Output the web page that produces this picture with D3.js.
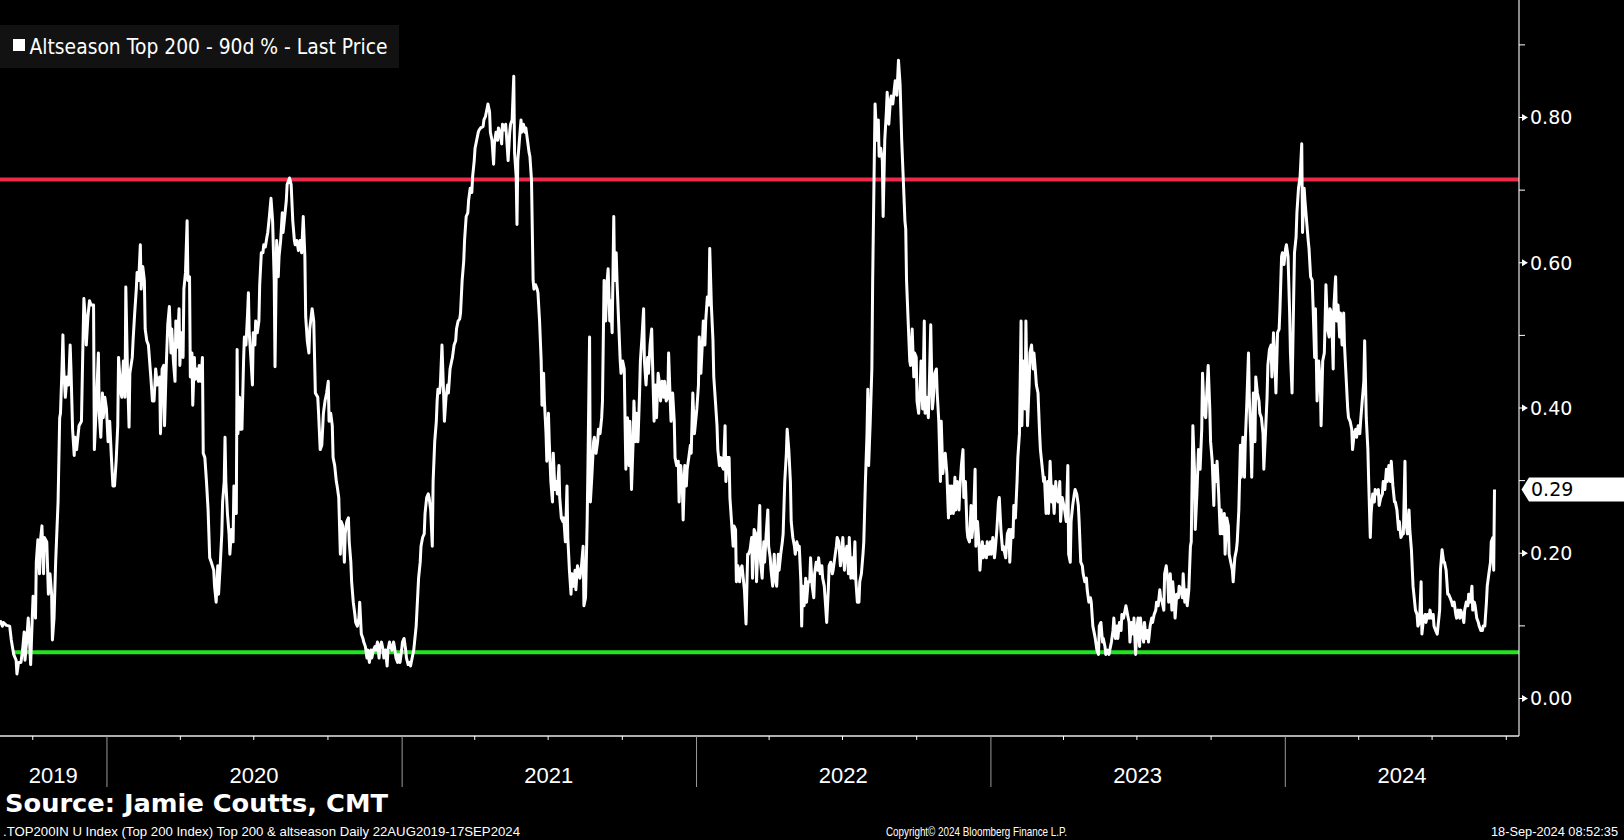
<!DOCTYPE html>
<html>
<head>
<meta charset="utf-8">
<script src="https://cdn.jsdelivr.net/npm/d3@7"></script>
<style>
html,body{margin:0;padding:0;background:#000;overflow:hidden;}
svg{display:block;}
</style>
</head>
<body>
<svg id="chart" width="1624" height="840"></svg>
<script>
// ---------------- DATA ----------------
const startDate = "2019-08-22";
const endDate = "2024-09-17";
// [days since startDate, Altseason Top 200 - 90d % value]
const altseason = [
[0,0.107],[3,0.099],[4,0.104],[8,0.100],[12,0.099],[14,0.080],[17,0.060],[20,0.052],[21,0.033],[23,0.049],[26,0.049],[28,0.066],[30,0.091],[31,0.052],[33,0.077],[35,0.110],[36,0.091],[38,0.046],[40,0.110],[41,0.140],[43,0.132],[44,0.110],[45,0.187],[47,0.218],[49,0.171],[50,0.215],[52,0.237],[54,0.171],[55,0.221],[58,0.215],[60,0.143],[62,0.171],[64,0.143],[65,0.080],[67,0.110],[69,0.187],[70,0.215],[72,0.270],[74,0.386],[75,0.392],[77,0.458],[78,0.500],[79,0.453],[81,0.414],[83,0.442],[85,0.431],[87,0.486],[88,0.453],[90,0.370],[92,0.334],[93,0.359],[95,0.342],[97,0.364],[98,0.375],[101,0.381],[103,0.497],[104,0.550],[106,0.519],[107,0.486],[109,0.525],[111,0.547],[113,0.541],[116,0.541],[117,0.342],[119,0.392],[122,0.475],[123,0.392],[125,0.359],[127,0.420],[128,0.386],[130,0.414],[132,0.398],[134,0.353],[136,0.381],[138,0.334],[140,0.292],[142,0.292],[144,0.326],[146,0.375],[147,0.469],[150,0.420],[151,0.414],[153,0.464],[155,0.414],[156,0.566],[158,0.453],[160,0.373],[161,0.447],[164,0.469],[165,0.492],[167,0.530],[169,0.563],[170,0.586],[172,0.575],[174,0.624],[175,0.563],[177,0.594],[179,0.575],[180,0.508],[182,0.492],[184,0.486],[187,0.442],[189,0.409],[191,0.409],[193,0.453],[195,0.431],[198,0.442],[199,0.364],[201,0.453],[203,0.458],[204,0.375],[206,0.453],[208,0.514],[210,0.539],[212,0.475],[213,0.508],[215,0.464],[217,0.436],[218,0.519],[220,0.483],[222,0.536],[223,0.458],[225,0.503],[227,0.469],[228,0.563],[230,0.586],[232,0.657],[233,0.575],[235,0.580],[236,0.442],[238,0.475],[239,0.403],[241,0.469],[242,0.439],[244,0.453],[246,0.436],[247,0.458],[249,0.436],[251,0.469],[252,0.337],[254,0.331],[256,0.298],[258,0.259],[260,0.193],[262,0.187],[265,0.176],[266,0.154],[268,0.132],[270,0.182],[271,0.143],[273,0.182],[275,0.226],[276,0.270],[278,0.298],[279,0.359],[280,0.298],[282,0.254],[284,0.226],[285,0.198],[287,0.232],[289,0.215],[290,0.292],[291,0.254],[293,0.254],[294,0.480],[295,0.364],[297,0.414],[298,0.370],[300,0.370],[302,0.464],[303,0.497],[305,0.486],[307,0.530],[308,0.558],[309,0.503],[311,0.469],[313,0.431],[314,0.503],[316,0.486],[317,0.519],[319,0.503],[321,0.519],[322,0.569],[324,0.613],[326,0.613],[327,0.624],[329,0.621],[331,0.635],[332,0.641],[334,0.663],[336,0.688],[338,0.657],[340,0.575],[341,0.456],[343,0.630],[345,0.580],[346,0.608],[348,0.630],[350,0.668],[351,0.641],[353,0.663],[355,0.685],[356,0.707],[359,0.716],[361,0.707],[363,0.657],[365,0.630],[366,0.624],[368,0.630],[370,0.616],
[372,0.630],[374,0.613],[376,0.663],[378,0.608],[379,0.525],[381,0.492],[383,0.475],[384,0.508],[387,0.536],[389,0.519],[391,0.420],[394,0.414],[395,0.392],[397,0.342],[399,0.348],[401,0.392],[403,0.409],[405,0.420],[407,0.436],[408,0.381],[410,0.392],[412,0.375],[413,0.331],[415,0.320],[417,0.298],[418,0.292],[420,0.276],[422,0.198],[423,0.243],[425,0.237],[427,0.187],[428,0.226],[430,0.243],[432,0.248],[433,0.215],[435,0.187],[436,0.160],[438,0.132],[440,0.115],[441,0.104],[443,0.099],[445,0.110],[446,0.132],[448,0.088],[450,0.082],[451,0.077],[453,0.071],[455,0.055],[456,0.066],[458,0.049],[460,0.066],[461,0.055],[463,0.066],[465,0.071],[466,0.066],[468,0.077],[470,0.055],[471,0.071],[473,0.077],[475,0.066],[476,0.055],[478,0.066],[480,0.044],[481,0.066],[483,0.077],[484,0.071],[486,0.066],[488,0.077],[489,0.071],[491,0.055],[493,0.049],[494,0.060],[496,0.049],[498,0.066],[499,0.077],[501,0.082],[503,0.066],[504,0.055],[506,0.046],[508,0.049],[509,0.044],[511,0.055],[513,0.066],[514,0.077],[516,0.099],[518,0.143],[519,0.165],[521,0.187],[522,0.209],[524,0.221],[526,0.226],[527,0.254],[529,0.276],[531,0.281],[532,0.276],[534,0.259],[536,0.209],[537,0.298],[539,0.353],[541,0.381],[542,0.409],[543,0.425],[545,0.420],[546,0.431],[548,0.486],[550,0.420],[551,0.381],[553,0.414],[555,0.431],[556,0.420],[558,0.453],[560,0.464],[561,0.469],[563,0.486],[565,0.492],[566,0.508],[568,0.519],[570,0.522],[571,0.530],[573,0.575],[575,0.602],[576,0.630],[578,0.663],[580,0.668],[581,0.685],[583,0.702],[585,0.696],[586,0.718],[588,0.740],[589,0.757],[591,0.768],[593,0.779],[594,0.782],[596,0.785],[599,0.787],[600,0.796],[602,0.801],[604,0.812],[605,0.818],[607,0.807],[608,0.779],[610,0.768],[612,0.735],[613,0.763],[615,0.779],[617,0.768],[618,0.785],[620,0.779],[622,0.763],[623,0.790],[625,0.782],[627,0.790],[628,0.774],[630,0.740],[632,0.779],[633,0.790],[635,0.796],[637,0.856],[638,0.751],[640,0.718],[641,0.652],[642,0.740],[644,0.768],[646,0.796],[647,0.779],[649,0.790],[651,0.779],[652,0.785],[654,0.768],[656,0.751],[657,0.746],[659,0.713],[661,0.575],[662,0.563],[664,0.569],[666,0.563],[667,0.558],[669,0.519],[671,0.464],[672,0.403],[674,0.447],[675,0.409],[677,0.364],[678,0.326],[680,0.392],[681,0.353],[683,0.298],[685,0.270],[686,0.337],[688,0.287],[690,0.298],[691,0.281],[693,0.320],[694,0.276],[696,0.248],[698,0.243],[699,0.248],[701,0.215],[703,0.292],[704,0.221],[706,0.176],[708,0.143],[709,0.171],[711,0.154],[713,0.176],[714,0.149],[716,0.182],[718,0.171],[719,0.165],[721,0.182],[723,0.209],[724,0.127],[726,0.138],[728,0.243],[729,0.320],[731,0.497],[732,0.270],[734,0.309],[736,0.353],[737,0.359],[739,0.337],[741,0.353],[742,0.370],[744,0.364],
[746,0.386],[747,0.409],[749,0.575],[751,0.519],[752,0.563],[754,0.591],[756,0.519],[757,0.547],[759,0.503],[761,0.663],[762,0.575],[764,0.613],[765,0.575],[767,0.519],[769,0.464],[770,0.447],[772,0.464],[774,0.453],[775,0.381],[776,0.315],[778,0.386],[780,0.320],[781,0.381],[783,0.287],[785,0.353],[786,0.409],[788,0.353],[789,0.392],[791,0.353],[793,0.420],[794,0.464],[796,0.497],[798,0.536],[799,0.464],[801,0.431],[803,0.469],[804,0.447],[806,0.486],[808,0.508],[809,0.464],[811,0.381],[813,0.431],[814,0.386],[816,0.447],[818,0.431],[819,0.409],[821,0.436],[823,0.414],[824,0.436],[826,0.409],[828,0.414],[829,0.475],[831,0.409],[832,0.381],[834,0.420],[836,0.381],[837,0.331],[839,0.320],[841,0.326],[842,0.270],[844,0.320],[846,0.292],[847,0.245],[849,0.320],[851,0.292],[852,0.315],[854,0.331],[856,0.348],[857,0.337],[859,0.420],[861,0.364],[862,0.375],[864,0.398],[866,0.431],[867,0.497],[869,0.447],[871,0.492],[872,0.519],[874,0.486],[875,0.519],[877,0.552],[879,0.541],[880,0.619],[882,0.541],[884,0.492],[885,0.442],[887,0.409],[889,0.375],[890,0.342],[892,0.320],[894,0.331],[895,0.320],[897,0.315],[899,0.375],[900,0.298],[902,0.331],[904,0.331],[905,0.276],[907,0.243],[909,0.209],[910,0.237],[912,0.232],[913,0.160],[915,0.182],[917,0.160],[918,0.176],[920,0.182],[922,0.160],[923,0.149],[925,0.102],[927,0.198],[928,0.198],[930,0.204],[932,0.221],[933,0.165],[935,0.232],[937,0.226],[938,0.160],[940,0.215],[942,0.265],[943,0.187],[945,0.165],[947,0.215],[948,0.187],[950,0.226],[952,0.259],[953,0.209],[955,0.193],[956,0.176],[958,0.154],[960,0.198],[961,0.165],[963,0.154],[965,0.198],[966,0.176],[968,0.198],[970,0.215],[971,0.226],[973,0.298],[975,0.337],[976,0.370],[978,0.342],[980,0.298],[981,0.243],[983,0.221],[985,0.209],[986,0.198],[988,0.215],[990,0.204],[991,0.209],[993,0.160],[994,0.099],[995,0.154],[997,0.127],[999,0.165],[1000,0.132],[1002,0.160],[1004,0.160],[1005,0.193],[1007,0.154],[1009,0.138],[1010,0.171],[1012,0.187],[1014,0.176],[1015,0.193],[1017,0.171],[1019,0.182],[1020,0.165],[1022,0.154],[1023,0.138],[1025,0.104],[1027,0.149],[1028,0.182],[1030,0.187],[1032,0.171],[1033,0.176],[1035,0.193],[1037,0.209],[1038,0.221],[1040,0.215],[1042,0.182],[1043,0.193],[1045,0.221],[1047,0.176],[1048,0.198],[1050,0.209],[1052,0.171],[1053,0.221],[1055,0.165],[1057,0.193],[1058,0.165],[1060,0.215],[1061,0.165],[1063,0.132],[1065,0.132],[1066,0.160],[1068,0.171],[1070,0.198],[1071,0.215],[1073,0.298],[1075,0.364],[1076,0.425],[1077,0.320],[1079,0.381],[1081,0.453],[1082,0.575],[1084,0.740],[1085,0.818],[1087,0.768],[1089,0.796],[1090,0.746],[1092,0.757],[1094,0.740],[1095,0.663],[1097,0.768],[1099,0.807],[1100,0.834],[1102,0.790],[1104,0.823],[1105,0.829],[1107,0.818],[1109,0.840],[1110,0.850],[1112,0.830],[1114,0.878],[1116,0.845],
[1118,0.768],[1120,0.713],[1122,0.657],[1123,0.646],[1124,0.575],[1126,0.519],[1128,0.464],[1129,0.458],[1131,0.508],[1133,0.442],[1134,0.475],[1136,0.469],[1137,0.409],[1139,0.392],[1141,0.431],[1142,0.464],[1144,0.398],[1146,0.519],[1147,0.392],[1149,0.414],[1151,0.386],[1152,0.420],[1154,0.514],[1156,0.398],[1157,0.409],[1159,0.447],[1161,0.453],[1162,0.420],[1164,0.381],[1166,0.298],[1167,0.381],[1169,0.309],[1171,0.331],[1172,0.337],[1174,0.309],[1176,0.248],[1177,0.292],[1179,0.254],[1180,0.292],[1182,0.254],[1184,0.304],[1185,0.259],[1187,0.298],[1189,0.259],[1190,0.287],[1192,0.320],[1194,0.342],[1195,0.276],[1197,0.298],[1199,0.232],[1200,0.221],[1202,0.215],[1204,0.265],[1205,0.221],[1207,0.243],[1209,0.315],[1210,0.209],[1212,0.243],[1214,0.209],[1215,0.176],[1216,0.193],[1218,0.215],[1219,0.193],[1221,0.209],[1223,0.193],[1224,0.215],[1226,0.198],[1228,0.215],[1229,0.198],[1231,0.221],[1233,0.193],[1234,0.204],[1236,0.232],[1238,0.270],[1239,0.276],[1241,0.232],[1243,0.204],[1244,0.209],[1246,0.198],[1247,0.193],[1249,0.226],[1251,0.232],[1252,0.187],[1254,0.232],[1256,0.221],[1257,0.265],[1259,0.248],[1261,0.298],[1262,0.331],[1264,0.364],[1266,0.519],[1267,0.375],[1269,0.464],[1271,0.398],[1272,0.519],[1274,0.375],[1276,0.431],[1277,0.475],[1279,0.486],[1281,0.453],[1282,0.475],[1284,0.447],[1285,0.431],[1287,0.420],[1289,0.364],[1290,0.342],[1292,0.320],[1294,0.298],[1295,0.304],[1297,0.254],[1299,0.298],[1300,0.254],[1302,0.326],[1304,0.270],[1305,0.292],[1307,0.254],[1309,0.298],[1310,0.276],[1312,0.270],[1314,0.298],[1315,0.243],[1317,0.276],[1319,0.265],[1320,0.259],[1322,0.243],[1324,0.320],[1325,0.198],[1327,0.187],[1328,0.243],[1330,0.265],[1332,0.281],[1333,0.287],[1335,0.281],[1337,0.265],[1338,0.243],[1340,0.187],[1342,0.182],[1343,0.171],[1345,0.160],[1347,0.165],[1348,0.149],[1350,0.132],[1352,0.138],[1353,0.132],[1355,0.099],[1357,0.088],[1358,0.082],[1360,0.066],[1362,0.060],[1363,0.099],[1365,0.104],[1367,0.077],[1368,0.082],[1370,0.071],[1371,0.060],[1373,0.066],[1375,0.060],[1376,0.066],[1378,0.077],[1380,0.093],[1381,0.110],[1383,0.082],[1385,0.099],[1386,0.082],[1388,0.104],[1390,0.093],[1391,0.115],[1393,0.110],[1395,0.121],[1396,0.127],[1398,0.115],[1400,0.104],[1401,0.077],[1403,0.104],[1405,0.088],[1406,0.110],[1408,0.060],[1410,0.099],[1411,0.110],[1413,0.071],[1414,0.110],[1416,0.088],[1418,0.077],[1419,0.104],[1421,0.082],[1423,0.093],[1424,0.077],[1426,0.099],[1428,0.110],[1429,0.104],[1431,0.115],[1433,0.121],[1434,0.132],[1436,0.127],[1438,0.149],[1439,0.138],[1441,0.132],[1443,0.121],[1444,0.171],[1446,0.182],[1448,0.160],[1449,0.132],[1451,0.171],[1453,0.121],[1454,0.160],[1456,0.132],[1457,0.110],[1459,0.143],[1461,0.138],[1462,0.154],[1464,0.149],[1466,0.138],[1467,0.171],[1469,0.132],[1471,0.149],[1472,0.127],[1474,0.149],[1476,0.209],[1477,0.215],[1479,0.375],[1481,0.315],[1482,0.232],[1484,0.281],[1486,0.342],[1487,0.320],
[1488,0.315],[1490,0.370],[1491,0.447],[1493,0.392],[1495,0.386],[1496,0.414],[1498,0.458],[1500,0.398],[1501,0.353],[1503,0.326],[1505,0.265],[1506,0.320],[1508,0.298],[1509,0.326],[1511,0.281],[1513,0.226],[1514,0.259],[1516,0.226],[1518,0.254],[1519,0.198],[1521,0.248],[1523,0.237],[1524,0.198],[1526,0.187],[1528,0.176],[1529,0.160],[1531,0.193],[1533,0.204],[1534,0.215],[1536,0.259],[1538,0.348],[1539,0.304],[1541,0.359],[1543,0.304],[1544,0.353],[1546,0.409],[1548,0.475],[1549,0.414],[1551,0.353],[1552,0.304],[1554,0.420],[1556,0.353],[1557,0.442],[1559,0.420],[1561,0.409],[1562,0.392],[1564,0.386],[1566,0.364],[1567,0.315],[1569,0.364],[1571,0.414],[1572,0.458],[1574,0.480],[1576,0.486],[1577,0.442],[1579,0.503],[1581,0.453],[1582,0.420],[1584,0.503],[1586,0.508],[1587,0.536],[1589,0.608],[1590,0.613],[1592,0.597],[1594,0.619],[1595,0.624],[1597,0.608],[1599,0.530],[1600,0.475],[1602,0.420],[1604,0.552],[1605,0.613],[1607,0.635],[1608,0.668],[1610,0.702],[1612,0.718],[1614,0.763],[1615,0.641],[1617,0.702],[1618,0.685],[1620,0.657],[1622,0.630],[1623,0.619],[1625,0.580],[1627,0.575],[1628,0.541],[1630,0.469],[1631,0.536],[1633,0.409],[1635,0.464],[1637,0.436],[1638,0.375],[1640,0.464],[1642,0.475],[1643,0.519],[1644,0.569],[1646,0.508],[1648,0.497],[1649,0.536],[1651,0.530],[1653,0.453],[1654,0.541],[1656,0.580],[1657,0.519],[1659,0.541],[1661,0.497],[1662,0.530],[1664,0.486],[1666,0.530],[1667,0.486],[1669,0.442],[1671,0.398],[1672,0.386],[1674,0.381],[1676,0.370],[1677,0.342],[1679,0.364],[1681,0.370],[1682,0.359],[1684,0.375],[1686,0.364],[1687,0.381],[1689,0.409],[1691,0.436],[1692,0.492],[1694,0.386],[1696,0.342],[1697,0.298],[1699,0.221],[1700,0.254],[1702,0.281],[1704,0.270],[1705,0.287],[1707,0.281],[1709,0.287],[1710,0.265],[1712,0.276],[1714,0.281],[1715,0.298],[1717,0.287],[1719,0.315],[1720,0.298],[1722,0.320],[1724,0.298],[1725,0.326],[1727,0.292],[1729,0.270],[1730,0.270],[1732,0.259],[1734,0.232],[1735,0.243],[1737,0.221],[1739,0.226],[1740,0.226],[1742,0.326],[1743,0.243],[1745,0.226],[1747,0.259],[1748,0.232],[1750,0.204],[1752,0.154],[1753,0.143],[1755,0.121],[1757,0.115],[1758,0.099],[1760,0.104],[1762,0.160],[1763,0.088],[1765,0.110],[1767,0.115],[1768,0.104],[1770,0.115],[1772,0.110],[1773,0.121],[1775,0.110],[1777,0.115],[1778,0.099],[1780,0.093],[1782,0.088],[1783,0.099],[1785,0.121],[1786,0.176],[1788,0.204],[1790,0.187],[1791,0.187],[1793,0.176],[1795,0.143],[1796,0.143],[1798,0.138],[1800,0.132],[1801,0.127],[1803,0.132],[1805,0.115],[1806,0.110],[1808,0.121],[1810,0.110],[1811,0.121],[1813,0.115],[1815,0.104],[1816,0.121],[1818,0.132],[1820,0.127],[1821,0.143],[1823,0.132],[1825,0.154],[1826,0.121],[1828,0.132],[1829,0.127],[1831,0.110],[1833,0.104],[1834,0.099],[1836,0.093],[1838,0.093],[1839,0.099],[1841,0.099],[1843,0.132],[1844,0.154],[1846,0.171],[1848,0.187],[1849,0.215],[1851,0.221],[1852,0.176],[1853,0.287]
];
const yTickValues = [0, 0.2, 0.4, 0.6, 0.8];
const yMinorTickValues = [0.1, 0.3, 0.5, 0.7, 0.9];
const yearLabels = ["2019", "2020", "2021", "2022", "2023", "2024"];
const upperLevel = 0.714;      // red horizontal level
const lowerLevel = 0.063;      // green horizontal level
const lowerLevelStartDay = 15; // green level starts a little later
const legendLabel = "Altseason Top 200 - 90d % - Last Price";
const sourceText = "Source: Jamie Coutts, CMT";
const footerLeft = ".TOP200IN U Index (Top 200 Index) Top 200 & altseason  Daily 22AUG2019-17SEP2024";
const footerMid = "Copyright\u00A9 2024 Bloomberg Finance L.P.";
const footerRight = "18-Sep-2024 08:52:35";

// ---------------- CHART ----------------
const W = 1624, H = 840;
const plotRight = 1519, plotBottom = 736;
const svg = d3.select("#chart");
svg.append("rect").attr("width", W).attr("height", H).attr("fill", "#000");

const parse = d3.timeParse("%Y-%m-%d");
const t0 = parse(startDate), t1 = parse(endDate);
const x = d3.scaleTime().domain([t0, t1]).range([0, 1494.5]);
const y = d3.scaleLinear().domain([0, 0.8]).range([698, 117]);
const axisEnd = x.invert(plotRight);

const pts = altseason.map(([d, v]) => ({date: d3.timeDay.offset(t0, d), value: v}));

// level lines
svg.append("line")
  .attr("x1", x(t0)).attr("x2", plotRight)
  .attr("y1", y(upperLevel)).attr("y2", y(upperLevel))
  .attr("stroke", "#ee2a4a").attr("stroke-width", 4);
svg.append("line")
  .attr("x1", x(d3.timeDay.offset(t0, lowerLevelStartDay))).attr("x2", plotRight)
  .attr("y1", y(lowerLevel)).attr("y2", y(lowerLevel))
  .attr("stroke", "#1fe61f").attr("stroke-width", 4);

// series
svg.append("path")
  .datum(pts)
  .attr("fill", "none")
  .attr("stroke", "#fff")
  .attr("stroke-width", 3)
  .attr("stroke-linejoin", "round")
  .attr("d", d3.line().x(d => x(d.date)).y(d => y(d.value)));

// axis lines
svg.append("line").attr("x1", plotRight).attr("x2", plotRight).attr("y1", 0).attr("y2", plotBottom)
  .attr("stroke", "#e8e8e8").attr("stroke-width", 1.2);
svg.append("line").attr("x1", 0).attr("x2", plotRight).attr("y1", plotBottom).attr("y2", plotBottom)
  .attr("stroke", "#e8e8e8").attr("stroke-width", 1.5);

// y axis (major labels)
const gy = svg.append("g").attr("transform", `translate(${plotRight},0)`)
  .call(d3.axisRight(y).tickValues(yTickValues).tickSize(0).tickPadding(11).tickFormat(d3.format(".2f")));
gy.select(".domain").remove();
gy.selectAll(".tick text")
  .attr("fill", "#fff").attr("font-family", "DejaVu Sans, Verdana, sans-serif")
  .attr("font-size", 19).attr("dy", "0.36em");
gy.selectAll(".tick").append("path")
  .attr("d", "M0,-0.6 L3,-0.6 L3,-3.5 L9,0 L3,3.5 L3,0.6 L0,0.6 Z")
  .attr("fill", "#fff");
// y axis (minor ticks)
const gym = svg.append("g").attr("transform", `translate(${plotRight},0)`)
  .call(d3.axisRight(y).tickValues(yMinorTickValues).tickSize(6).tickFormat(""));
gym.select(".domain").remove();
gym.selectAll(".tick line").attr("stroke", "#fff");

// x axis: quarter ticks and year separators
const quarters = d3.timeMonth.every(3).range(t0, axisEnd).filter(d => d.getMonth() !== 0);
const yearStarts = d3.timeYear.range(t0, axisEnd);
const gxq = svg.append("g").attr("transform", `translate(0,${plotBottom})`)
  .call(d3.axisBottom(x).tickValues(quarters).tickSize(4).tickFormat(""));
gxq.select(".domain").remove();
gxq.selectAll(".tick line").attr("stroke", "#fff");
const gxy = svg.append("g").attr("transform", `translate(0,${plotBottom})`)
  .call(d3.axisBottom(x).tickValues(yearStarts).tickSize(51).tickFormat(""));
gxy.select(".domain").remove();
gxy.selectAll(".tick line").attr("stroke", "#9a9a9a");

// year labels centred on the visible part of each year
yearLabels.forEach(lbl => {
  const ys = parse(lbl + "-01-01"), ye = parse((+lbl + 1) + "-01-01");
  const a = x(ys < t0 ? t0 : ys), b = x(ye > axisEnd ? axisEnd : ye);
  svg.append("text")
    .attr("x", (a + b) / 2).attr("y", 783)
    .attr("text-anchor", "middle")
    .attr("fill", "#fff")
    .attr("font-family", "Liberation Sans, Arial, sans-serif")
    .attr("font-size", 22)
    .text(lbl);
});

// last value tag
const last = pts[pts.length - 1];
const ly = y(last.value);
svg.append("path")
  .attr("d", `M${plotRight + 2.5},${ly} L${plotRight + 10},${ly - 12} L${W},${ly - 12} L${W},${ly + 12} L${plotRight + 10},${ly + 12} Z`)
  .attr("fill", "#fff");
svg.append("text")
  .attr("x", plotRight + 12).attr("y", ly).attr("dy", "0.36em")
  .attr("fill", "#000")
  .attr("font-family", "DejaVu Sans, Verdana, sans-serif")
  .attr("font-size", 19)
  .text(d3.format(".2f")(last.value));

// legend
svg.append("rect").attr("x", 0).attr("y", 25).attr("width", 399).attr("height", 43).attr("fill", "#121212");
svg.append("rect").attr("x", 13).attr("y", 39).attr("width", 12).attr("height", 12).attr("fill", "#fff");
svg.append("text")
  .attr("x", 29.5).attr("y", 53.5)
  .attr("fill", "#fff")
  .attr("font-family", "DejaVu Sans, Verdana, sans-serif")
  .attr("font-size", 20.5)
  .attr("textLength", 358).attr("lengthAdjust", "spacingAndGlyphs")
  .text(legendLabel);

// footer texts
svg.append("text")
  .attr("x", 5).attr("y", 812)
  .attr("fill", "#fff")
  .attr("font-family", "DejaVu Sans, Verdana, sans-serif")
  .attr("font-weight", "bold")
  .attr("font-size", 24)
  .attr("textLength", 383).attr("lengthAdjust", "spacingAndGlyphs")
  .text(sourceText);
const footerFont = "Liberation Sans Narrow, Arial Narrow, Liberation Sans, sans-serif";
svg.append("text")
  .attr("x", 3).attr("y", 836)
  .attr("fill", "#fff")
  .attr("font-family", footerFont)
  .attr("font-size", 13)
  .attr("textLength", 517).attr("lengthAdjust", "spacingAndGlyphs")
  .text(footerLeft);
svg.append("text")
  .attr("x", 886).attr("y", 836)
  .attr("fill", "#fff")
  .attr("font-family", footerFont)
  .attr("font-size", 13)
  .attr("textLength", 181).attr("lengthAdjust", "spacingAndGlyphs")
  .text(footerMid);
svg.append("text")
  .attr("x", 1491).attr("y", 836)
  .attr("fill", "#fff")
  .attr("font-family", footerFont)
  .attr("font-size", 13)
  .attr("textLength", 127).attr("lengthAdjust", "spacingAndGlyphs")
  .text(footerRight);
</script>
</body>
</html>
